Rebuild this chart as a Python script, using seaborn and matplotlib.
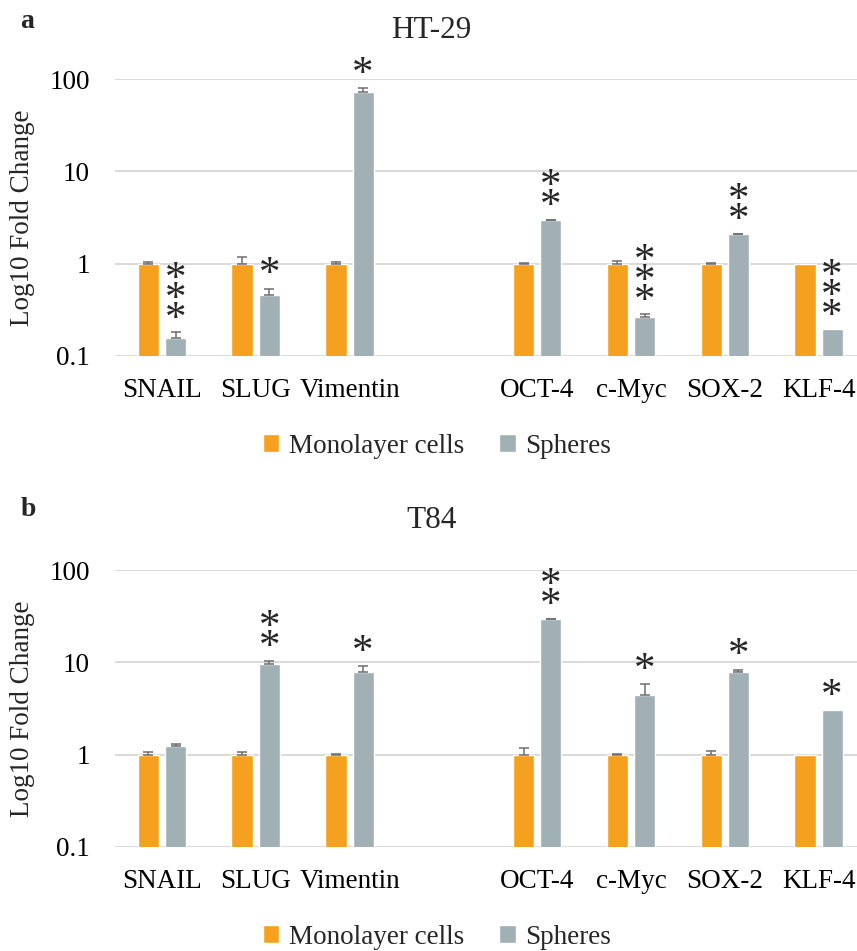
import numpy as np
import matplotlib
matplotlib.use("Agg")
import matplotlib.pyplot as plt
import matplotlib.ticker as mticker
import seaborn as sns
import pandas as pd

# ──────────────────────────────────────────────
# Data
# ──────────────────────────────────────────────
genes = ["SNAIL", "SLUG", "Vimentin", "OCT-4", "c-Myc", "SOX-2", "KLF-4"]
order = ["SNAIL", "SLUG", "Vimentin", " ", "OCT-4", "c-Myc", "SOX-2", "KLF-4"]
conditions = ["Monolayer cells", "Spheres"]

ht29_mono = [1.0, 1.0, 1.0, 1.0, 1.0, 1.0, 1.0]
ht29_mono_err = [0.03, 0.19, 0.04, 0.02, 0.06, 0.02, 0.0]
ht29_sph = [0.157, 0.46, 71.5, 2.96, 0.263, 2.08, 0.195]
ht29_sph_err = [0.025, 0.07, 8.0, 0.03, 0.023, 0.02, 0.0]
ht29_stars = [3, 1, 1, 2, 3, 2, 3]

t84_mono = [1.0, 1.0, 1.0, 1.0, 1.0, 1.0, 1.0]
t84_mono_err = [0.06, 0.06, 0.01, 0.17, 0.01, 0.09, 0.0]
t84_sph = [1.23, 9.5, 7.85, 29.3, 4.46, 7.8, 3.01]
t84_sph_err = [0.08, 0.8, 1.2, 0.3, 1.3, 0.5, 0.0]
t84_stars = [0, 2, 1, 2, 1, 1, 1]

yticks = [0.1, 1, 10, 100]

ORANGE = "#F5A11F"
GREY = "#A0B0B5"
FONT = "Liberation Serif"
FS = 19.5
STAR_FS = 31
STAR_PITCH = 13.2  # points between stacked stars


def draw_panel(ax, title, letter, mono, mono_err, sph, sph_err, stars, title_y, letter_y, legend_y):
    df = pd.DataFrame({
        "gene": genes * 2,
        "condition": [conditions[0]] * len(genes) + [conditions[1]] * len(genes),
        "value": list(mono) + list(sph),
    })
    errs = {(g, conditions[0]): e for g, e in zip(genes, mono_err)}
    errs.update({(g, conditions[1]): e for g, e in zip(genes, sph_err)})
    nstars = dict(zip(genes, stars))

    sns.barplot(data=df, x="gene", y="value", hue="condition", order=order,
                hue_order=conditions, palette=[ORANGE, GREY], width=0.58, gap=0.22,
                errorbar=None, saturation=1, ax=ax)
    ax.set_yscale("log")
    ax.set_ylim(0.1, 100)
    ax.set_xlim(-0.5, 7.41)

    # upper-only error bars and significance stars
    for cont, cond in zip(ax.containers, conditions):
        for bar in cont:
            xc = bar.get_x() + bar.get_width() / 2
            h = bar.get_height()
            g = order[int(round(xc))]
            e = errs[(g, cond)]
            if e > 0:
                ax.errorbar(xc, h, yerr=[[0], [e]], fmt="none", ecolor="#6E6E6E",
                            elinewidth=1.1, capsize=3.8, capthick=1.1)
            n = nstars[g] if cond == conditions[1] else 0
            if n:
                ls = STAR_PITCH / (STAR_FS * 1.15)
                ax.annotate("\n".join(["*"] * n), xy=(xc, h + e),
                            xytext=(0, 10 + STAR_PITCH * (n - 1) / 2),
                            textcoords="offset points", ha="center", va="center",
                            fontsize=STAR_FS, linespacing=ls, annotation_clip=False)

    ax.yaxis.set_major_locator(mticker.FixedLocator(yticks))
    ax.yaxis.set_minor_locator(mticker.NullLocator())
    ax.yaxis.set_major_formatter(mticker.FuncFormatter(lambda v, _: f"{v:g}"))
    ax.yaxis.grid(True, color="#D9D9D9", lw=1.4)
    ax.set_axisbelow(True)
    sns.despine(ax=ax, left=True, bottom=True)
    ax.tick_params(axis="both", length=0, labelsize=FS, colors="black")
    ax.tick_params(axis="x", pad=16)
    ax.tick_params(axis="y", pad=18)
    ax.set_xlabel("")
    ax.set_ylabel("Log10 Fold Change", fontsize=FS)
    ax.yaxis.set_label_coords(-0.108, 0.5)

    handles, labels = ax.get_legend_handles_labels()
    ax.legend_.remove()
    fig.legend(handles, labels, loc="center", bbox_to_anchor=(0.51, legend_y),
               ncol=2, frameon=False, fontsize=FS, handlelength=0.6,
               handleheight=0.6, handletextpad=0.35, columnspacing=1.3)

    fig.text(0.503, title_y, title, ha="center", va="center", fontsize=22.5)
    fig.text(0.024, letter_y, letter, ha="left", va="center", fontsize=20,
             fontweight="bold")


sns.set_theme(style="white")
plt.rcParams["font.family"] = [FONT, "DejaVu Serif"]

fig = plt.figure(figsize=(8.57, 9.51), dpi=100)
ax1 = fig.add_axes([115 / 857, 0.6257, 742 / 857, 0.2912])
ax2 = fig.add_axes([115 / 857, 0.1094, 742 / 857, 0.2912])

draw_panel(ax1, "HT-29", "a", ht29_mono, ht29_mono_err, ht29_sph, ht29_sph_err,
           ht29_stars, 1 - 31 / 951, 1 - 21 / 951, 1 - 446 / 951)
draw_panel(ax2, "T84", "b", t84_mono, t84_mono_err, t84_sph, t84_sph_err,
           t84_stars, 1 - 521 / 951, 1 - 509 / 951, 1 - 937 / 951)

fig.savefig("out.png", dpi=100)
